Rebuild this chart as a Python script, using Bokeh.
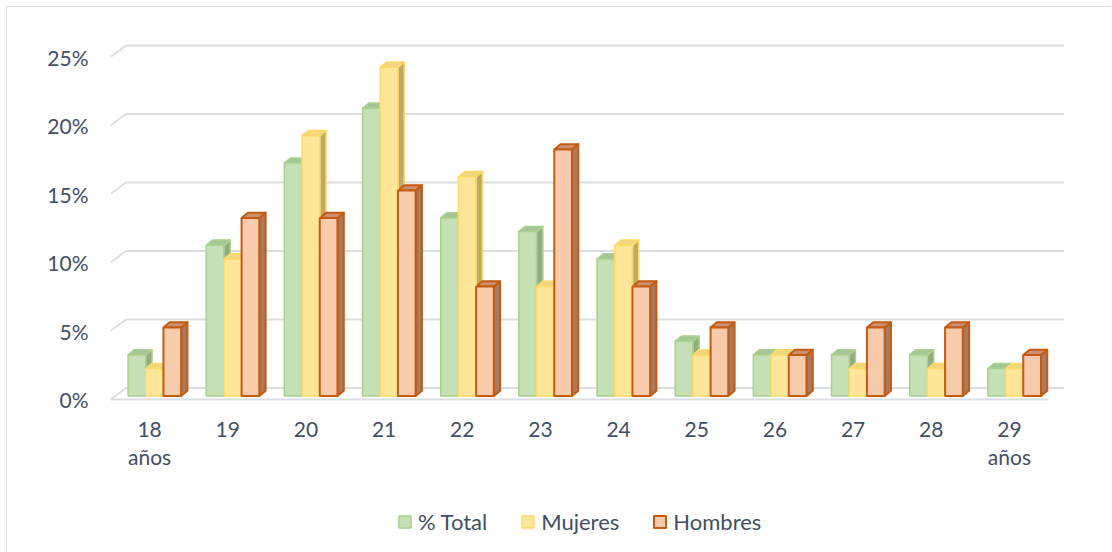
from bokeh.plotting import figure
from bokeh.models import (Range1d, FixedTicker, PrintfTickFormatter, Legend,
                          LegendItem, ColumnDataSource)
from bokeh.core.properties import value
from bokeh.embed import file_html
from bokeh.resources import INLINE

# Age groups and share of each group (%)
edades = ["18\naños", "19", "20", "21", "22", "23", "24", "25", "26", "27", "28", "29\naños"]
total = [3, 11, 17, 21, 13, 12, 10, 4, 3, 3, 3, 2]
mujeres = [2, 10, 19, 24, 16, 8, 11, 3, 3, 2, 2, 2]
hombres = [5, 13, 13, 15, 8, 18, 8, 5, 3, 5, 5, 3]
y_ticks = [0, 5, 10, 15, 20, 25]

series = [
    # label, values, front fill, edge, side fill, top fill, edge width
    ("% Total", total, "#C5E0B4", "#A9D18E", "#92AC80", "#A6C594", 1.5),
    ("Mujeres", mujeres, "#FFE699", "#FFD966", "#BDA96C", "#F3D67D", 1.5),
    ("Hombres", hombres, "#F8CBAD", "#C55A11", "#A67B62", "#C98F70", 2.0),
]

TEXT = "#434F63"
FONT = "Lato"

# canvas geometry (px)
W, H = 1105, 545
FL, FR, FT, FB = 103, 1065, 33, 545          # frame edges
Y_ZERO = 392                                 # pixel row of the 0 % front edge
n = len(edades)
SX = 938 / n                                 # px per category
SY = 13.7                                    # px per percentage point
x0 = -0.5
x1 = x0 + (FR - FL) / SX
y0 = -(FB - Y_ZERO) / SY
y1 = (Y_ZERO - FT) / SY

# depth offsets (data units)
DX, DY = 15.5 / SX, 11.5 / SY                # back wall
FX, FY = 5.0 / SX, 3.5 / SY                  # bar front face inside the depth
BDX, BDY = 6.3 / SX, 5.2 / SY                # bar thickness
BW = 17.7 / SX                               # bar width

p = figure(width=W, height=H, output_backend="svg", toolbar_location=None,
           x_range=Range1d(x0, x1), y_range=Range1d(y0, y1),
           x_axis_location=None,
           min_border_left=FL, min_border_right=W - FR,
           min_border_top=FT, min_border_bottom=0,
           background_fill_color="white", border_fill_color="white")
p.outline_line_color = None
p.grid.visible = False
p.styles = {"margin-left": "6px", "margin-top": "6px",
            "border-left": "1px solid #DCDCDC", "border-top": "1px solid #DCDCDC"}

# back wall gridlines with the short diagonal on the left side
gx, gy = [], []
for v in y_ticks:
    gx.append([x0, x0 + DX, x0 + n + DX])
    gy.append([v, v + DY, v + DY])
gx.append([x0, x0 + n])
gy.append([0, 0])
p.multi_line(gx, gy, line_color="#DADDE2", line_width=1.8)

sides, tops, fronts = [], [], []
for k, (label, vals, fill, edge, side, top, lw) in enumerate(series):
    left = [i - 1.5 * BW + k * BW + FX for i in range(n)]
    right = [l + BW for l in left]
    bottom = [FY] * n
    topv = [v + FY for v in vals]
    fronts.append(dict(left=left, right=right, bottom=bottom, top=topv,
                       fill=fill, edge=edge, lw=lw, label=label))
    sides.append(dict(
        xs=[[r, r + BDX, r + BDX, r] for r in right],
        ys=[[b, b + BDY, t + BDY, t] for b, t in zip(bottom, topv)],
        fill=side, edge=edge, lw=lw))
    tops.append(dict(
        xs=[[l, r, r + BDX, l + BDX] for l, r in zip(left, right)],
        ys=[[t, t, t + BDY, t + BDY] for t in topv],
        fill=top, edge=edge, lw=lw))

for s in sides:
    p.patches(s["xs"], s["ys"], fill_color=s["fill"], line_color=s["edge"],
              line_width=s["lw"], line_join="round")
for t in tops:
    p.patches(t["xs"], t["ys"], fill_color=t["fill"], line_color=t["edge"],
              line_width=t["lw"], line_join="round")
items = []
for f in fronts:
    src = ColumnDataSource(dict(left=f["left"], right=f["right"],
                                bottom=f["bottom"], top=f["top"]))
    r = p.quad(left="left", right="right", bottom="bottom", top="top", source=src,
               fill_color=f["fill"], line_color=f["edge"], line_width=f["lw"])
    items.append(LegendItem(label=f["label"], renderers=[r]))

# category labels under the floor (first line and the "años" second line)
first = [e.split("\n")[0] for e in edades]
second = [(i, e.split("\n")[1]) for i, e in enumerate(edades) if "\n" in e]
lab_kw = dict(text_font=value(FONT), text_font_size="21px", text_color=TEXT,
              text_align="center", text_baseline="middle")
p.text(x=list(range(n)), y=[(Y_ZERO - 422) / SY] * n, text=first, **lab_kw)
p.text(x=[i for i, _ in second], y=[(Y_ZERO - 449) / SY] * len(second),
       text=[t for _, t in second], **lab_kw)

# value axis
p.yaxis.ticker = FixedTicker(ticks=y_ticks)
p.yaxis.formatter = PrintfTickFormatter(format="%d%%")
p.yaxis.axis_line_color = None
p.yaxis.major_tick_line_color = None
p.yaxis.minor_tick_line_color = None
p.yaxis.major_label_text_font = FONT
p.yaxis.major_label_text_font_size = "21px"
p.yaxis.major_label_text_color = TEXT
p.yaxis.major_label_standoff = 16

legend = Legend(items=items, orientation="horizontal", location=(287, 17),
                glyph_width=15, glyph_height=15, label_standoff=6, spacing=33,
                padding=0, margin=0, border_line_color=None,
                background_fill_alpha=0,
                label_text_font=FONT, label_text_font_size="22px",
                label_text_color=TEXT)
p.add_layout(legend, "center")

open("out.html", "w").write(file_html(p, INLINE))
